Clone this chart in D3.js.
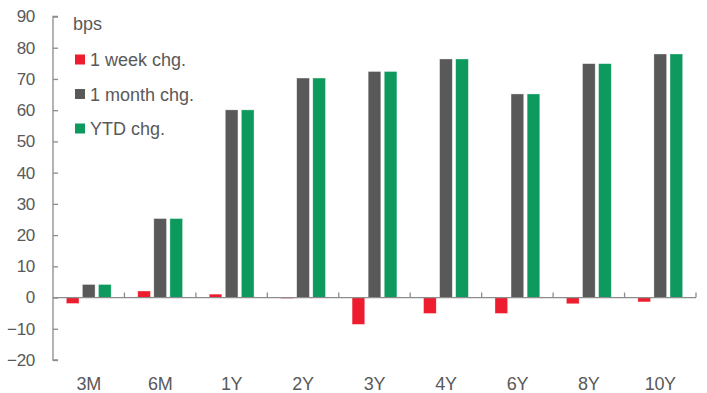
<!DOCTYPE html>
<html>
<head>
<meta charset="utf-8">
<script src="https://cdn.jsdelivr.net/npm/d3@7"></script>
<style>
  body { margin: 0; background: #fff; }
  svg { display: block; font-family: "Liberation Sans", Arial, sans-serif; }
</style>
</head>
<body>
<div id="chart"></div>
<script>
// data
const tenors = ["3M", "6M", "1Y", "2Y", "3Y", "4Y", "6Y", "8Y", "10Y"];
const seriesNames = ["1 week chg.", "1 month chg.", "YTD chg."];
const weekChg = [-1.9, 2.1, 1.1, -0.3, -8.6, -5.1, -5.1, -2.0, -1.4];
const monthChg = [4.2, 25.3, 60.1, 70.3, 72.4, 76.4, 65.2, 74.9, 78.0];
const ytdChg = [4.2, 25.3, 60.1, 70.3, 72.4, 76.4, 65.2, 74.9, 78.0];
const yTicks = [-20, -10, 0, 10, 20, 30, 40, 50, 60, 70, 80, 90];

const colors = ["#ED1C2E", "#595959", "#0E9A5E"];
const textColor = "#595959";
const axisColor = "#8C8C8C";

const width = 707, height = 393;
const margin = { top: 16.5, right: 11, bottom: 33, left: 53 };

const rows = tenors.map((t, i) => ({
    tenor: t,
    values: [weekChg[i], monthChg[i], ytdChg[i]]
}));

const svg = d3.select("#chart").append("svg")
    .attr("width", width)
    .attr("height", height);

const x = d3.scaleBand()
    .domain(tenors)
    .range([margin.left, width - margin.right])
    .paddingInner(0)
    .paddingOuter(0);

const y = d3.scaleLinear()
    .domain([-20, 90])
    .range([height - margin.bottom, margin.top]);

const groupPad = 13.3;
const xInner = d3.scaleBand()
    .domain(d3.range(seriesNames.length))
    .range([groupPad, x.bandwidth() - groupPad])
    .paddingInner(0.21)
    .paddingOuter(0);

// bars
const groups = svg.append("g").attr("class", "bars")
    .selectAll("g")
    .data(rows)
    .join("g")
    .attr("transform", d => `translate(${x(d.tenor)},0)`);

groups.selectAll("rect")
    .data(d => d.values.map((v, k) => ({ v, k })))
    .join("rect")
    .attr("x", d => xInner(d.k))
    .attr("width", xInner.bandwidth())
    .attr("y", d => y(Math.max(0, d.v)))
    .attr("height", d => Math.abs(y(d.v) - y(0)))
    .attr("fill", d => colors[d.k])
    .attr("stroke", "#fff")
    .attr("stroke-opacity", 0.6)
    .attr("stroke-width", 0.6);

// y axis, ticks point inward
const yAxis = svg.append("g")
    .attr("transform", `translate(${margin.left},0)`)
    .call(d3.axisLeft(y).tickValues(yTicks).tickSize(-5).tickFormat(d3.format("d")));
yAxis.select(".domain").attr("stroke", axisColor).attr("stroke-width", 1.3)
    .attr("d", `M5,${y(90)}H0V${y(-20)}H5`);
yAxis.selectAll(".tick line").attr("stroke", axisColor).attr("stroke-width", 1.3);
yAxis.selectAll(".tick text")
    .attr("fill", textColor)
    .attr("font-size", 17)
    .attr("letter-spacing", -0.3)
    .attr("x", -18);

// x axis at zero
const xAxis = svg.append("g")
    .attr("transform", `translate(0,${y(0)})`);
xAxis.append("line")
    .attr("x1", margin.left).attr("x2", width - margin.right)
    .attr("stroke", axisColor).attr("stroke-width", 1.3);
xAxis.selectAll(".sep")
    .data(tenors.slice(1).concat(["end"]))
    .join("line")
    .attr("class", "sep")
    .attr("x1", (d, i) => i < tenors.length - 1 ? x(d) : x.range()[1])
    .attr("x2", (d, i) => i < tenors.length - 1 ? x(d) : x.range()[1])
    .attr("y1", 0).attr("y2", -5)
    .attr("stroke", axisColor).attr("stroke-width", 1.3);

// category labels along the bottom
svg.append("g").selectAll("text")
    .data(tenors)
    .join("text")
    .attr("x", d => x(d) + x.bandwidth() / 2)
    .attr("y", 390)
    .attr("text-anchor", "middle")
    .attr("fill", textColor)
    .attr("font-size", 18)
    .attr("letter-spacing", -0.3)
    .text(d => d);

// legend
const legend = svg.append("g").attr("transform", "translate(73,0)");
legend.append("text")
    .attr("x", 0).attr("y", 30)
    .attr("fill", textColor)
    .attr("font-size", 18)
    .text("bps");
const items = legend.selectAll("g.item")
    .data(seriesNames)
    .join("g")
    .attr("class", "item")
    .attr("transform", (d, i) => `translate(0,${59.5 + i * 34.5})`);
items.append("rect")
    .attr("x", 2).attr("y", -5)
    .attr("width", 10).attr("height", 10)
    .attr("fill", (d, i) => colors[i]);
items.append("text")
    .attr("x", 17).attr("y", 6.5)
    .attr("fill", textColor)
    .attr("font-size", 18)
    .text(d => d);
</script>
</body>
</html>
